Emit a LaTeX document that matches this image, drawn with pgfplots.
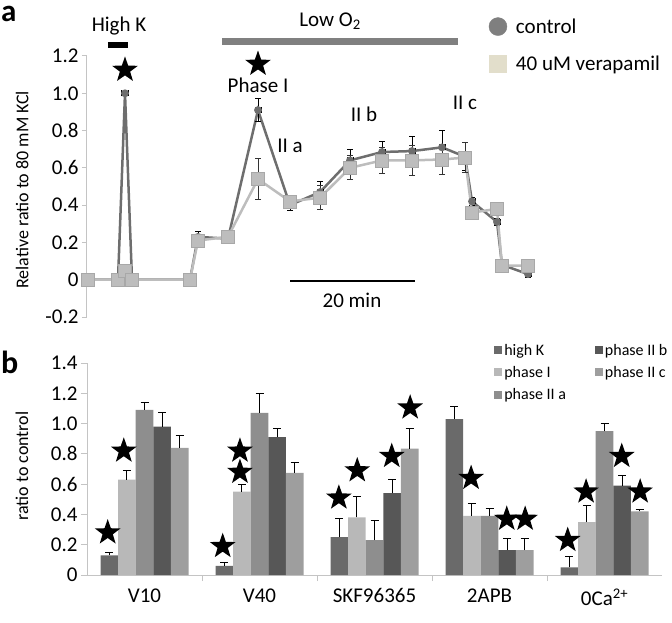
\documentclass[border=0pt]{standalone}
\usepackage{fontspec}
\setmainfont{Carlito}
\usepackage{pgfplots}
\pgfplotsset{compat=1.18}
\usetikzlibrary{shapes.geometric}
\definecolor{axisgray}{HTML}{C4C4C4}
\definecolor{ctrl}{HTML}{6E6E6E}
\definecolor{ctrlleg}{HTML}{7F7F7F}
\definecolor{verp}{HTML}{BDBDBD}
\definecolor{verpd}{HTML}{A8A8A8}
\definecolor{verleg}{HTML}{E2DECB}
\definecolor{lowgray}{HTML}{808080}
\definecolor{cHK}{HTML}{6A6A6A}
\definecolor{cI}{HTML}{B8B8B8}
\definecolor{cIIa}{HTML}{8E8E8E}
\definecolor{cIIb}{HTML}{575757}
\definecolor{cIIc}{HTML}{9E9E9E}
\tikzset{bigstar/.style={star, star points=5, star point ratio=2.5, fill=black, draw=none, minimum size=27pt, inner sep=0pt}}
\begin{document}
\begin{tikzpicture}[x=1pt,y=1pt]
\path[use as bounding box] (0,0) rectangle (672,-623);
\node[font=\bfseries\fontsize{31}{33}\selectfont, anchor=base west, inner sep=0pt, text height=16pt] at (1,-22) {a};
\node[font=\bfseries\fontsize{32}{34}\selectfont, anchor=base west, inner sep=0pt] at (1,-373) {b};
% ---------------- panel a
\begin{axis}[
  at={(87pt,-317pt)}, anchor=south west, scale only axis,
  width=473pt, height=261pt,
  xmin=87, xmax=560, ymin=-0.2, ymax=1.2,
  axis x line=none, axis y line*=left,
  y axis line style={draw=axisgray, line width=1pt},
  ytick={-0.2,0,0.2,0.4,0.6,0.8,1.0,1.2},
  yticklabels={-0.2,0,0.2,0.4,0.6,0.8,1.0,1.2},
  tick align=outside, major tick length=5pt,
  tick style={draw=axisgray, line width=1pt},
  yticklabel style={font=\fontsize{21}{22}\selectfont},
  ylabel={Relative ratio to 80 mM KCl},
  ylabel style={font=\fontsize{18}{19}\selectfont, at={(axis description cs:-0.137,0.487)}, anchor=center, rotate=0},
  clip=false,
  legend style={at={(axis description cs:0.849,1.152)}, anchor=north west, draw=none, fill=none,
    font=\fontsize{21}{22}\selectfont, row sep=17pt, inner sep=0pt},
  legend cell align=left,
]
\addplot[forget plot, ctrl, line width=2.5pt, mark=*, mark size=2.6pt, mark options={fill=ctrl, draw=ctrl},
  error bars/.cd, x dir=both, x explicit, y dir=both, y explicit,
  error bar style={black, line width=1pt},
  error mark options={rotate=90, mark size=3pt, black, line width=1pt}]
  table[x=x, y=y, x error=ex, y error=ey] {
x y ex ey
88 0 3 0
118 0 3 0
125 1.0 3 0.01
132 0 3 0
190 0 3 0
198 0.23 3 0.03
228 0.22 3 0.02
258 0.91 3 0.06
290 0.40 3 0.03
320 0.47 3 0.055
350 0.64 3 0.06
382 0.685 3 0.055
412 0.69 3 0.08
442 0.71 3 0.09
465 0.66 3 0.075
472 0.42 3 0.02
497 0.31 3 0.02
502 0.08 3 0.02
528 0.03 3 0.02
};
\addplot[forget plot, verp, line width=2.5pt, mark=square*, mark size=6.5pt, mark options={fill=verp, draw=verpd, line width=0.6pt},
  error bars/.cd, x dir=both, x explicit, y dir=both, y explicit,
  error bar style={black!80, line width=1pt},
  error mark options={rotate=90, mark size=3pt, black!80, line width=1pt}]
  table[x=x, y=y, x error=ex, y error=ey] {
x y ex ey
88 0 3 0
118 0 3 0
125 0.05 3 0
132 0 3 0
190 0 3 0
198 0.21 3 0.03
228 0.23 3 0.02
258 0.54 3 0.11
290 0.42 3 0.03
320 0.44 3 0.065
350 0.60 3 0.065
382 0.64 3 0.07
412 0.64 3 0.08
442 0.645 3 0.08
465 0.655 3 0.08
472 0.36 3 0.02
497 0.38 3 0.02
502 0.075 3 0.02
528 0.075 3 0.02
};
\addlegendimage{legend image code/.code={\fill[ctrlleg] (0pt,0pt) circle (9pt); \path[draw=none,fill=none] (0pt,0pt) -- (16pt,0pt);}}
\addlegendentry{control}
\addlegendimage{legend image code/.code={\fill[verleg] (-8.5pt,-8.5pt) rectangle (8.5pt,8.5pt); \path[draw=none,fill=none] (0pt,0pt) -- (16pt,0pt);}}
\addlegendentry{40 uM verapamil}
% annotations
\draw[line width=6pt, black] (axis cs:108,1.26) -- (axis cs:128,1.26);
\node[font=\fontsize{21}{22}\selectfont] at (axis cs:119,1.36) {High K};
\draw[line width=7pt, lowgray] (axis cs:222,1.28) -- (axis cs:458,1.28);
\node[font=\fontsize{21}{22}\selectfont] at (axis cs:330,1.385) {Low O\textsubscript{2}};
\node[bigstar] at (axis cs:125,1.125) {};
\node[bigstar] at (axis cs:258,1.157) {};
\node[font=\fontsize{21}{22}\selectfont] at (axis cs:258,1.045) {Phase I};
\node[font=\fontsize{21}{22}\selectfont] at (axis cs:290,0.72) {II a};
\node[font=\fontsize{21}{22}\selectfont] at (axis cs:364,0.885) {II b};
\node[font=\fontsize{21}{22}\selectfont] at (axis cs:465,0.95) {II c};
\draw[line width=2pt, black] (axis cs:290,-0.005) -- (axis cs:415,-0.005);
\node[font=\fontsize{21}{22}\selectfont] at (axis cs:352,-0.11) {20 min};
\end{axis}
% ---------------- panel b
\begin{axis}[
  at={(87pt,-575pt)}, anchor=south west, scale only axis,
  width=575pt, height=212pt,
  xmin=-0.5, xmax=4.5, ymin=0, ymax=1.4,
  ybar=0pt, bar width=17.6pt,
  axis x line*=bottom, axis y line*=left,
  axis line style={draw=axisgray, line width=1pt},
  ytick={0,0.2,0.4,0.6,0.8,1.0,1.2,1.4},
  yticklabels={0,0.2,0.4,0.6,0.8,1.0,1.2,1.4},
  xtick={0.5,1.5,2.5,3.5}, xticklabels={},
  extra x ticks={0,1,2,3,4},
  extra x tick labels={V10,V40,SKF96365,2APB,0Ca\textsuperscript{2+}},
  extra x tick style={major tick length=0pt, xticklabel style={yshift=-10pt}},
  tick align=outside, major tick length=6pt,
  tick style={draw=axisgray, line width=1pt},
  ticklabel style={font=\fontsize{21}{22}\selectfont},
  ylabel={ratio to control},
  ylabel style={font=\fontsize{18}{19}\selectfont, at={(axis description cs:-0.113,0.514)}, anchor=center, rotate=0},
  clip=false,
  legend image code/.code={\fill[#1, draw=none] (0pt,-4pt) rectangle (8pt,4pt);},
  legend style={at={(axis description cs:0.708,1.10)}, anchor=north west, draw=none, fill=none,
    font=\fontsize{16}{17}\selectfont, row sep=5.5pt, inner sep=0pt,
    /tikz/every even column/.append style={column sep=27pt}},
  transpose legend, legend columns=3, legend cell align=left,
  error bars/y dir=plus, error bars/y explicit,
  error bars/error bar style={black, line width=1pt},
  error bars/error mark options={rotate=90, mark size=4pt, black, line width=1pt},
]
\addplot[fill=cHK, draw=none] table[x=x, y=y, y error=e] {
x y e
0 0.13 0.02
1 0.06 0.02
2 0.25 0.12
3 1.03 0.08
4 0.05 0.07
};
\addlegendentry{high K}
\addplot[fill=cI, draw=none] table[x=x, y=y, y error=e] {
x y e
0 0.63 0.06
1 0.55 0.05
2 0.38 0.14
3 0.39 0.08
4 0.35 0.11
};
\addlegendentry{phase I}
\addplot[fill=cIIa, draw=none] table[x=x, y=y, y error=e] {
x y e
0 1.09 0.05
1 1.07 0.13
2 0.23 0.13
3 0.39 0.05
4 0.95 0.05
};
\addlegendentry{phase II a}
\addplot[fill=cIIb, draw=none] table[x=x, y=y, y error=e] {
x y e
0 0.98 0.09
1 0.91 0.06
2 0.54 0.09
3 0.165 0.075
4 0.59 0.07
};
\addlegendentry{phase II b}
\addplot[fill=cIIc, draw=none] table[x=x, y=y, y error=e] {
x y e
0 0.84 0.08
1 0.675 0.07
2 0.835 0.13
3 0.165 0.075
4 0.42 0.01
};
\addlegendentry{phase II c}
% stars
\node[bigstar] at (axis cs:-0.32,0.28) {};
\node[bigstar] at (axis cs:-0.18,0.82) {};
\node[bigstar] at (axis cs:0.68,0.19) {};
\node[bigstar] at (axis cs:0.83,0.68) {};
\node[bigstar] at (axis cs:0.83,0.82) {};
\node[bigstar] at (axis cs:1.69,0.51) {};
\node[bigstar] at (axis cs:1.85,0.69) {};
\node[bigstar] at (axis cs:2.15,0.785) {};
\node[bigstar] at (axis cs:2.31,1.105) {};
\node[bigstar] at (axis cs:2.84,0.64) {};
\node[bigstar] at (axis cs:3.15,0.37) {};
\node[bigstar] at (axis cs:3.31,0.37) {};
\node[bigstar] at (axis cs:3.68,0.23) {};
\node[bigstar] at (axis cs:3.84,0.55) {};
\node[bigstar] at (axis cs:4.15,0.785) {};
\node[bigstar] at (axis cs:4.31,0.55) {};
\end{axis}
\end{tikzpicture}
\end{document}
